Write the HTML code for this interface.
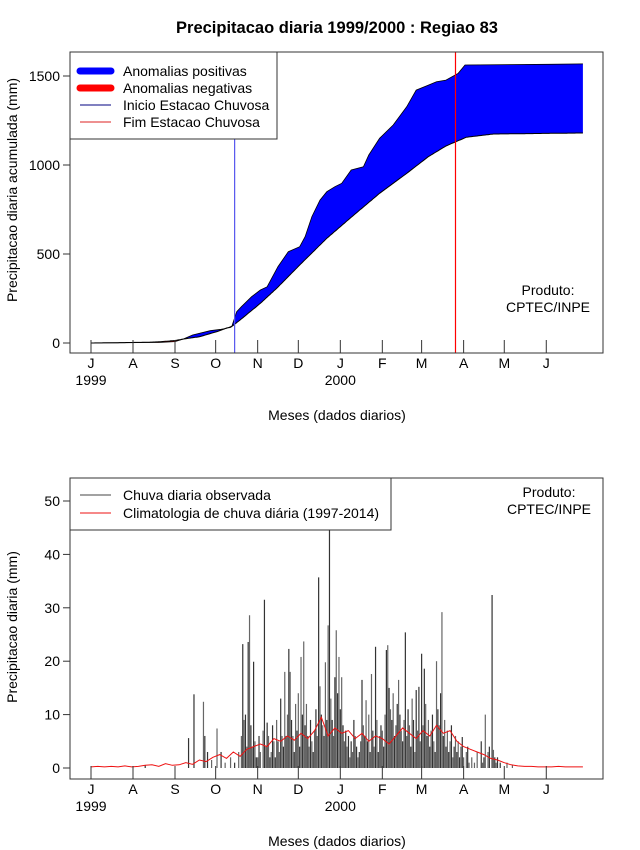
<!DOCTYPE html>
<html><head><meta charset="utf-8"><style>
html,body{margin:0;padding:0;background:#fff;}
svg{display:block;font-family:"Liberation Sans",sans-serif;}
</style></head><body>
<svg id="chart" width="640" height="850" viewBox="0 0 640 850" xmlns="http://www.w3.org/2000/svg">
<rect width="640" height="850" fill="#fff"/>
<text x="337" y="33" text-anchor="middle" font-size="16.5" font-weight="bold">Precipitacao diaria 1999/2000 : Regiao 83</text>
<g id="top"></g>
<g id="bot"></g>
</svg>
<script>
// ---- data ----
const monthLabels = ["J","A","S","O","N","D","J","F","M","A","M","J"];
const monthStartDays = [0,31,62,92,123,153,184,215,244,275,305,336];
const topYTicks = [0,500,1000,1500];
const botYTicks = [0,10,20,30,40,50];
// observed cumulative (day, mm)
const obsDays = [0,41,50,62,68,75,88,96,100,104,107.5,111,118.5,125,130,138,145.6,154,158,163,169,174,180,185,192,201,205,213,223,233,240,249,255,262,271,276,338,363];
const obsCum  = [0,3,3,8,22,45,69,77,82,95,176,204,260,298,316,429,513,541,597,710,803,850,878,897,972,990,1056,1150,1225,1327,1421,1449,1468,1477,1515,1562,1566,1568];
// climatology cumulative (day, mm)
const climDays = [0,41,51,62,68,80,93,100,103,110,125,137,154,174,194,213,233,249,262,277,297,363];
const climCum  = [0,4,7,14,22,35,64,84,88,129,223,307,438,588,719,841,953,1047,1107,1156,1174,1180];
const seasonStartDay = 106;
const seasonEndDay = 269;
// daily rain by month
const rainJul = [0,0,0,0,0,0,0,0,0,0,0,0,0,0,0,0,0,0,0,0,0,0,0,0,0,0,0,0,0,0,0];
const rainAug = [0,0,0,0,0,0,0,0,0,0.5,0,0,0,0,0,0,0,0,0,0,0,0,0,0,0,0,0,0,0,0,0];
const rainSep = [0,0,0,0,0,0,0,0,0,0,5.6,0,0,0,13.8,0,0,0,0,0,0,12.4,6,0,3,0,0,1.5,0,0];
const rainOct = [0,7.4,0,0,3,0,0,1,0,0,0,2,0,0,1,0,0,3,0,6,23.2,9,10,4,23.6,28.6,8,4,19.9,5,2];
const rainNov = [2,6,3,0,7,31.5,4,8.5,6,2,3,8,5,2,9,5,3,13,6,4,18,6,10,22.3,18,9,6,3,12,7];
const rainDec = [14,4,20.8,10,23.7,8,12,6,4,9,5,3,7,11,6,35.7,15.3,10,8,6,19.8,9,26.7,44.6,13,9,6,17,25.8,14,20.8];
const rainJan = [11,17,8,5,7,4,6,2,5,3,9,6,4,2,3,5,16.5,8,6,12.7,5,10,3,17.6,7,4,22.7,9,3,6,8];
const rainFeb = [7,4,10,22.1,23,15,11,9,14,6,8,12,16.5,10,7,5,9,25.4,6,11,8,4,13,9,3,14.6,7,15.2,5];
const rainMar = [21.4,8,18.6,12,6,9,4,7,10,5,3,20,11,8,14,29.2,6,9,4,7,3,5,8,2,4,6,3,5,2,4,5.8];
const rainApr = [2,0,3,4,1,0,2,0,1,0,3,0,0,5,1,2,10,0,3,4,0,32.4,3.4,2,1,2,0,1,0,0];
const rainMay = [0,0,1,0,0,0,0.5,0,0,0,0,0,0,0,0,0,0,0,0,0,0,0,0,0,0,0,0,0,0,0,0];
const rainJun = [0,0,0,0,0,0,0,0,0,0,0,0,0,0,0,0,0,0,0,0,0,0,0,0,0,0,0,0,0,0];
// climatology daily (every 5 days from day 0)
const climDaily = [0.2,0.3,0.2,0.3,0.2,0.4,0.2, 0.3,0.5,0.6,0.3,0.8,0.5, 0.6,1.0,0.7,1.5,1.2,2.0, 2.5,1.8,3.0,2.2,3.5,4.0, 4.5,4.0,5.5,5.0,6.0,5.2, 6.5,5.5,7.0,9.5,6.0,7.5, 6.5,7.0,5.5,6.5,5.0,6.0, 5.5,4.5,6.0,7.5,6.5,5.5, 7.0,6.0,8.0,6.5,7.0,5.0, 4.0,3.5,3.0,2.5,1.8,1.5, 1.0,0.6,0.4,0.3,0.3,0.2, 0.2,0.2,0.3,0.2,0.2,0.2,0.2];
const climStep = 5;

// ---- scales ----
const NS="http://www.w3.org/2000/svg";
const xDay = d => 91 + d*1.355;
const yTop = v => 343 - v*0.178;
const yBot = v => 768 - v*5.34;
function mk(tag, attrs, parent, text){
  const e=document.createElementNS(NS,tag);
  for(const k in attrs) e.setAttribute(k,attrs[k]);
  if(text!==undefined) e.textContent=text;
  parent.appendChild(e); return e;
}
function interp(xs, ys, d){
  if(d<=xs[0]) return ys[0];
  for(let i=1;i<xs.length;i++){ if(d<=xs[i]){ const t=(d-xs[i-1])/(xs[i]-xs[i-1]); return ys[i-1]+t*(ys[i]-ys[i-1]); } }
  return ys[ys.length-1];
}
function axes(g, top, bottom, yTicks, yf, yTitle, yTitleY, labY){
  const box=mk('rect',{x:70,y:top,width:533,height:bottom-top,fill:'none',stroke:'#333','stroke-width':1},g);
  
  
  yTicks.forEach(v=>{
    const t=mk('line',{x1:63,x2:70,y1:yf(v),y2:yf(v),stroke:'#333'},g);
    
    
    const l=mk('text',{x:60,y:yf(v)+5,'text-anchor':'end','font-size':14},g,String(v));
    
    
  });
  monthStartDays.forEach((d,i)=>{
    const t=mk('line',{x1:xDay(d),x2:xDay(d),y1:bottom,y2:bottom-13,stroke:'#333'},g);
    
    
    const l=mk('text',{x:xDay(d),y:labY,'text-anchor':'middle','font-size':14},g,monthLabels[i]);
    
    
  });
  const y1=mk('text',{x:91,y:labY+17,'text-anchor':'middle','font-size':14},g,'1999');
  
  
  const y2=mk('text',{x:xDay(184),y:labY+17,'text-anchor':'middle','font-size':14},g,'2000');
  
  
  const xt=mk('text',{x:337,y:labY+52,'text-anchor':'middle','font-size':14},g,'Meses (dados diarios)');
  
  
  const yt=mk('text',{x:0,y:0,'text-anchor':'middle','font-size':14,transform:`translate(17,${yTitleY}) rotate(-90)`},g,yTitle);
  
  
}

// ---- top panel ----
const gT=document.getElementById('top');
const lastDay=363;
let blueTop=[],redBot=[],clim=[];
for(let d=0; d<=lastDay; d++){
  const o=interp(obsDays,obsCum,d), c=interp(climDays,climCum,d);
  blueTop.push([xDay(d),yTop(Math.max(o,c))]);
  redBot.push([xDay(d),yTop(Math.min(o,c))]);
  clim.push([xDay(d),yTop(c)]);
}
const climRev=clim.slice().reverse();
const pts=a=>a.map(p=>p[0].toFixed(1)+','+p[1].toFixed(1)).join(' ');
const bp=mk('polygon',{points:pts(blueTop.concat(climRev)),fill:'#0000ff',stroke:'none'},gT);


const rp=mk('polygon',{points:pts(redBot.concat(climRev)),fill:'#ff0000',stroke:'none'},gT);


const ol=mk('polyline',{points:pts(obsDays.map((d,i)=>[xDay(d),yTop(obsCum[i])])),fill:'none',stroke:'#000','stroke-width':0.8},gT);


const cl=mk('polyline',{points:pts(clim),fill:'none',stroke:'#000','stroke-width':1},gT);


const sl=mk('line',{x1:xDay(seasonStartDay),x2:xDay(seasonStartDay),y1:52,y2:353,stroke:'#5555ee','stroke-width':1.2},gT);


const el=mk('line',{x1:xDay(seasonEndDay),x2:xDay(seasonEndDay),y1:52,y2:353,stroke:'#ff0000','stroke-width':1.2},gT);


axes(gT,52,353,topYTicks,yTop,'Precipitacao diaria acumulada (mm)',190,368);
// legend top
const lg=mk('g',{},gT);


mk('rect',{x:70,y:52,width:207,height:87,fill:'#fff',stroke:'#333'},lg);
const entries=[['Anomalias positivas','#0000ff',7],['Anomalias negativas','#ff0000',7],['Inicio Estacao Chuvosa','#000080',1],['Fim Estacao Chuvosa','#dd2222',1]];
entries.forEach((e,i)=>{
  const y=71+i*17;
  const s=mk('line',{x1:80,x2:111,y1:y,y2:y,stroke:e[1],'stroke-width':e[2],'stroke-linecap':e[2]>1?'round':'butt'},lg);
  
  
  const t=mk('text',{x:123,y:y+5,'font-size':14},lg,e[0]);
  
  
});
const p1=mk('text',{x:548,y:295,'text-anchor':'middle','font-size':14},gT,'Produto:');


const p2=mk('text',{x:548,y:312,'text-anchor':'middle','font-size':14},gT,'CPTEC/INPE');



// ---- bottom panel ----
const gB=document.getElementById('bot');
const rain=[].concat(rainJul,rainAug,rainSep,rainOct,rainNov,rainDec,rainJan,rainFeb,rainMar,rainApr,rainMay,rainJun);
rain.forEach((v,d)=>{
  if(v<=0) return;
  const b=mk('line',{x1:xDay(d),x2:xDay(d),y1:yBot(0),y2:yBot(v),stroke:d%2?'#666':'#333','stroke-width':1.2},gB);
  
  
});
const cd=mk('polyline',{points:pts(climDaily.map((v,i)=>[xDay(Math.min(i*climStep,lastDay)),yBot(v)])),fill:'none',stroke:'#ee1111','stroke-width':1},gB);


axes(gB,478,779,botYTicks,yBot,'Precipitacao diaria (mm)',627,794);
const lg2=mk('g',{},gB);


mk('rect',{x:70,y:478,width:321,height:52,fill:'#fff',stroke:'#333'},lg2);
[['Chuva diaria observada','#444'],['Climatologia de chuva diária (1997-2014)','#ee1111']].forEach((e,i)=>{
  const y=495+i*18;
  const s=mk('line',{x1:80,x2:111,y1:y,y2:y,stroke:e[1],'stroke-width':1},lg2);
  
  
  const t=mk('text',{x:123,y:y+5,'font-size':14},lg2,e[0]);
  
  
});
const q1=mk('text',{x:549,y:497,'text-anchor':'middle','font-size':14},gB,'Produto:');


const q2=mk('text',{x:549,y:514,'text-anchor':'middle','font-size':14},gB,'CPTEC/INPE');


</script>
</body></html>
